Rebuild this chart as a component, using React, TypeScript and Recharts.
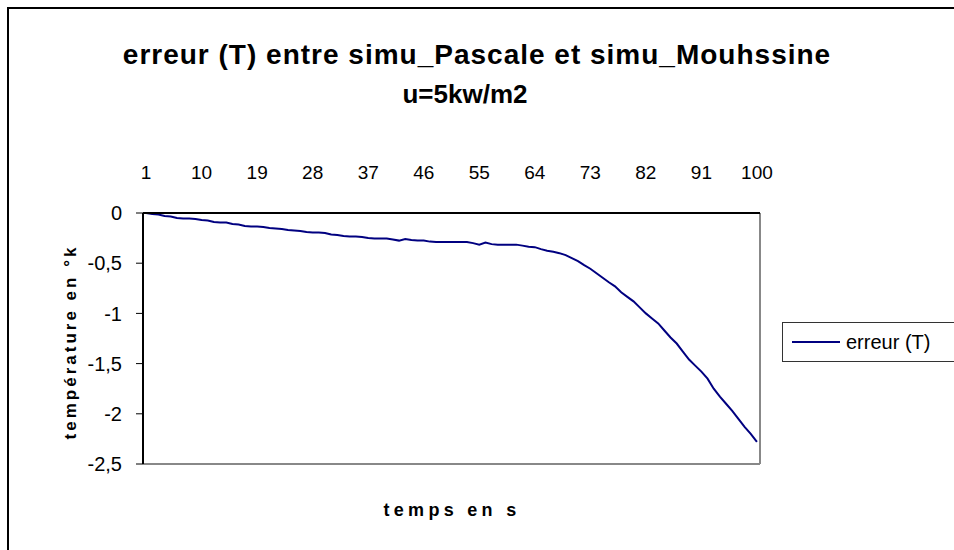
import { Line, LineChart, ReferenceLine, XAxis, YAxis } from "recharts";

// temps (pas de temps 1..100)
const steps = Array.from({ length: 100 }, (_, i) => i + 1);

// erreur (T) en °k
const erreurT = [
  0, -0.01, -0.015, -0.03, -0.035, -0.05, -0.055, -0.055, -0.06, -0.07,
  -0.075, -0.09, -0.095, -0.095, -0.11, -0.115, -0.13, -0.135, -0.135, -0.14,
  -0.15, -0.155, -0.16, -0.17, -0.175, -0.18, -0.19, -0.195, -0.195, -0.2,
  -0.215, -0.22, -0.23, -0.235, -0.235, -0.24, -0.25, -0.255, -0.255, -0.255,
  -0.265, -0.275, -0.26, -0.27, -0.275, -0.275, -0.285, -0.29, -0.29, -0.29,
  -0.29, -0.29, -0.29, -0.3, -0.315, -0.295, -0.31, -0.315, -0.315, -0.315,
  -0.315, -0.325, -0.335, -0.34, -0.36, -0.375, -0.385, -0.4, -0.42, -0.45,
  -0.48, -0.52, -0.555, -0.6, -0.645, -0.69, -0.73, -0.79, -0.835, -0.88,
  -0.94, -1.0, -1.05, -1.1, -1.17, -1.24, -1.3, -1.38, -1.46, -1.52,
  -1.58, -1.65, -1.75, -1.83, -1.9, -1.97, -2.05, -2.13, -2.2, -2.28,
];

const xTicks = [1, 10, 19, 28, 37, 46, 55, 64, 73, 82, 91, 100];
const yTicks = [0, -0.5, -1, -1.5, -2, -2.5];

const data = steps.map((t, i) => ({ t, erreur: erreurT[i] }));

const FONT = '"Liberation Sans", Arial, sans-serif';

const LegendBox = () => (
  <div
    style={{
      position: "absolute",
      left: 773,
      top: 313,
      border: "1px solid #333",
      width: 200,
      height: 38,
      display: "flex",
      alignItems: "center",
      fontFamily: FONT,
      fontSize: 20,
      color: "#000",
      background: "#fff",
    }}
  >
    <svg width={54} height={10} style={{ marginLeft: 9 }}>
      <line x1={0} y1={5} x2={48} y2={5} stroke="#000080" strokeWidth={2} />
    </svg>
    <span>erreur (T)</span>
  </div>
);

export default function App() {
  return (
    <div style={{ position: "fixed", left: 0, top: 0, width: 954, height: 550, overflow: "hidden", background: "#fff" }}>
      <div
        style={{
          position: "absolute",
          left: 7,
          top: 7,
          width: 960,
          height: 560,
          borderTop: "2px solid #000",
          borderLeft: "2px solid #000",
        }}
      >
        <LineChart
          width={945}
          height={541}
          data={data}
          margin={{ top: 160, right: 194, bottom: 86, left: 0 }}
          style={{ fontFamily: FONT }}
        >
          <text x={468} y={55} textAnchor="middle" fontSize={28} fontWeight="bold" letterSpacing={1} fill="#000" fontFamily={FONT}>
            erreur (T) entre simu_Pascale et simu_Mouhssine
          </text>
          <text x={456} y={94} textAnchor="middle" fontSize={26} fontWeight="bold" fill="#000" fontFamily={FONT}>
            u=5kw/m2
          </text>
          <text x={443} y={507} textAnchor="middle" fontSize={18} fontWeight="bold" letterSpacing={4.3} fill="#000" fontFamily={FONT}>
            temps en s
          </text>
          <text
            x={61}
            y={333}
            transform="rotate(-90 61 333)"
            textAnchor="middle"
            dominantBaseline="central"
            fontSize={17}
            fontWeight="bold"
            letterSpacing={3}
            fill="#000"
            fontFamily={FONT}
          >
            température en °k
          </text>
          <XAxis
            dataKey="t"
            type="number"
            orientation="top"
            domain={[0.5, 100.5]}
            ticks={xTicks}
            interval={0}
            height={44}
            tickLine={false}
            tickSize={0}
            tickMargin={34}
            axisLine={{ stroke: "#000", strokeWidth: 2 }}
            tick={{ fill: "#000", fontSize: 19 }}
          />
          <YAxis
            type="number"
            domain={[-2.5, 0]}
            ticks={yTicks}
            interval={0}
            width={134}
            tickSize={7}
            tickMargin={14}
            tickFormatter={(v: number) => String(v).replace(".", ",")}
            tickLine={{ stroke: "#000" }}
            axisLine={{ stroke: "#000", strokeWidth: 2 }}
            tick={{ fill: "#000", fontSize: 20 }}
          />
          <ReferenceLine x={100.5} stroke="#888" strokeWidth={2} ifOverflow="visible" />
          <ReferenceLine y={-2.5} stroke="#888" strokeWidth={2} ifOverflow="visible" />
          <Line
            type="linear"
            dataKey="erreur"
            stroke="#000080"
            strokeWidth={2}
            dot={false}
            isAnimationActive={false}
          />
        </LineChart>
        <LegendBox />
      </div>
    </div>
  );
}
